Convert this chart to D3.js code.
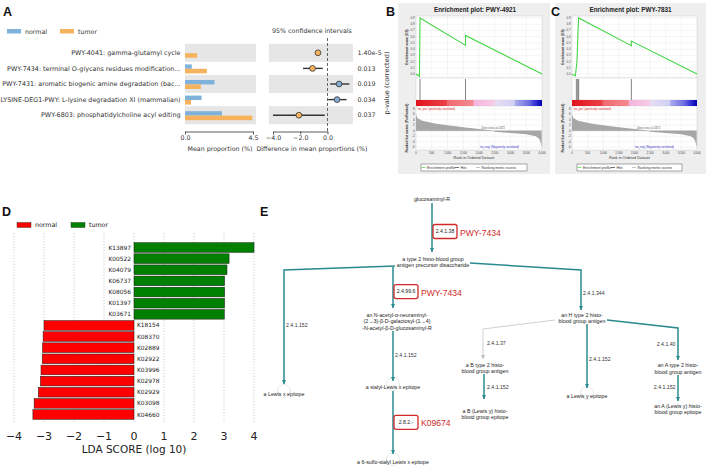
<!DOCTYPE html>
<html>
<head>
<meta charset="utf-8">
<script src="https://cdn.jsdelivr.net/npm/d3@7"></script>
<style>
  body { margin: 0; background: #fff; }
  svg { display: block; font-family: "DejaVu Sans", sans-serif; }
</style>
</head>
<body>
<svg id="fig" width="708" height="471"></svg>
<script>
// ---- A: STAMP extended error bar ----
const A_PATHWAYS = [
  "PWY-4041: gamma-glutamyl cycle",
  "PWY-7434: terminal O-glycans residues modification...",
  "PWY-7431: aromatic biogenic amine degradation (bac...",
  "LYSINE-DEG1-PWY: L-lysine degradation XI (mammalian)",
  "PWY-6803: phosphatidylcholine acyl editing",
];
const A_NORMAL = [0, 0.45, 1.95, 1.1, 2.45];
const A_TUMOR = [0.8, 1.45, 1.05, 0.4, 4.45];
const A_DIFF = [-0.7, -1.1, 0.85, 0.7, -2.1];
const A_CI_LOW = [-0.85, -1.8, 0.2, 0.05, -4.0];
const A_CI_HIGH = [-0.55, -0.35, 1.6, 1.4, -0.2];
const A_PVALUES = ["1.40e-5", "0.013", "0.019", "0.034", "0.037"];
const A_BAR_TICKS = [0, 4.5];
const A_DIFF_TICKS = [-4, -2, 0];

// ---- B, C: GSEA enrichment plots ----
const B_ES_RANK = [0, 110, 127, 1572, 1572, 4000];
const B_ES = [0, -0.04, 0.9, 0.46, 0.62, 0];
const B_HITS = [127, 1572];
const C_ES_RANK = [0, 107, 160, 192, 213, 1899, 1899, 4000];
const C_ES = [0, -0.03, 0.2, 0.7, 0.9, 0.455, 0.53, 0];
const C_HITS = [139, 181, 213, 1899];
const METRIC_RANK = [0, 40, 200, 600, 1000, 1500, 2000, 2450, 2500, 3000, 3500, 3800, 3900, 3950, 3990];
const METRIC_VALUE = [6.0, 4.6, 3.6, 2.6, 2.0, 1.3, 0.6, 0.1, -0.4, -0.8, -1.3, -2.0, -2.8, -4.0, -6.0];
const RANK_TICKS = [0, 500, 1000, 1500, 2000, 2500, 3000, 3500, 4000];
const ES_TICKS = [0, 0.1, 0.2, 0.3, 0.4, 0.5, 0.6, 0.7, 0.8, 0.9];
const METRIC_TICKS = [-6, -4, -2, 0, 2, 4, 6, 8];

// ---- D: LEfSe LDA scores ----
const D_TUMOR_KO = ["K13897", "K00522", "K04079", "K06737", "K08056", "K01397", "K03671"];
const D_TUMOR_LDA = [4.0, 3.17, 3.1, 3.02, 3.02, 3.02, 3.01];
const D_NORMAL_KO = ["K18154", "K08370", "K02889", "K02922", "K03996", "K02978", "K02929", "K03098", "K04660"];
const D_NORMAL_LDA = [-3.0, -3.03, -3.05, -3.06, -3.1, -3.12, -3.19, -3.33, -3.37];
const D_TICKS = [-4, -3, -2, -1, 0, 1, 2, 3, 4];

// ---- E: MetaCyc pathway ----
const E_NODES = [
  { id: "glc", label: ["glucosaminyl-R"] },
  { id: "t2p", label: ["a type 2 histo-blood group", "antigen precursor disaccharide"] },
  { id: "neu", label: ["an N-acetyl-\u03b1-neuraminyl-", "(2\u21923)-\u03b2-D-galactosyl-(1\u21924)", "-N-acetyl-\u03b2-D-glucosaminyl-R"] },
  { id: "lex", label: ["a Lewis x epitope"] },
  { id: "slx", label: ["a sialyl-Lewis x epitope"] },
  { id: "sslx", label: ["a 6-sulfo-sialyl Lewis x epitope"] },
  { id: "h2", label: ["an H type 2 histo-", "blood group antigen"] },
  { id: "b2", label: ["a B type 2 histo-", "blood group antigen"] },
  { id: "bley", label: ["a B (Lewis y) histo-", "blood group epitope"] },
  { id: "ley", label: ["a Lewis y epitope"] },
  { id: "a2", label: ["an A type 2 histo-", "blood group antigen"] },
  { id: "aley", label: ["an A (Lewis y) histo-", "blood group epitope"] },
];
const E_REACTIONS = [
  { from: "glc", to: "t2p", ec: "2.4.1.38", tag: "PWY-7434" },
  { from: "t2p", to: "lex", ec: "2.4.1.152" },
  { from: "t2p", to: "neu", ec: "2.4.99.6", tag: "PWY-7434" },
  { from: "neu", to: "slx", ec: "2.4.1.152" },
  { from: "slx", to: "sslx", ec: "2.8.2.-", tag: "K09674" },
  { from: "t2p", to: "h2", ec: "2.4.1.344" },
  { from: "h2", to: "b2", ec: "2.4.1.37", faint: true },
  { from: "b2", to: "bley", ec: "2.4.1.152" },
  { from: "h2", to: "ley", ec: "2.4.1.152" },
  { from: "h2", to: "a2", ec: "2.4.1.40" },
  { from: "a2", to: "aley", ec: "2.4.1.152" },
];

// layout of the pathway drawing (label centres, routes, EC label anchors)
const E_NODE_XY = {
  glc: [432, 199], t2p: [433, 262], neu: [397, 321.5], lex: [284, 394],
  slx: [393, 387], sslx: [393, 462], h2: [582, 318.5], b2: [485, 368],
  bley: [485, 414.5], ley: [587, 396], a2: [678, 368.7], aley: [678, 409.3],
};
const E_ROUTES = [
  { pts: [[432, 203], [432, 252]], lab: [445, 231.5] },
  { pts: [[395, 266], [284, 270], [284, 384]], lab: [286, 325, "start"] },
  { pts: [[393, 267], [393, 308]], lab: [406, 291.6] },
  { pts: [[393, 331], [393, 381]], lab: [395, 355, "start"] },
  { pts: [[393, 391], [393, 454]], lab: [406, 422.3] },
  { pts: [[470, 263], [581, 270], [581, 310]], lab: [583, 293, "start"] },
  { pts: [[555, 320], [483, 329], [483, 359]], lab: [487, 343, "start"] },
  { pts: [[484, 374], [484, 399]], lab: [487, 387, "start"] },
  { pts: [[587, 324], [587, 388]], lab: [589, 359, "start"] },
  { pts: [[607, 320], [678, 328], [678, 360]], lab: [675.5, 344.5, "end"] },
  { pts: [[678, 375], [678, 401]], lab: [675.5, 387, "end"] },
];

const BLUE = "#7fb2da", ORANGE = "#f6b35e";
const TEAL = "#2a8b8f", BOXRED = "#cf2a2a";
const svg = d3.select("#fig");
const defs = svg.append("defs");

function panelLetter(x, y, t) {
  svg.append("text").attr("x", x).attr("y", y).attr("font-size", 12.5)
    .attr("font-weight", "bold").attr("font-family", "'Liberation Sans', sans-serif")
    .attr("fill", "#111").text(t);
}

// =============== A ===============
panelLetter(3, 15.5, "A");
const gA = svg.append("g").attr("font-size", 6.3).attr("fill", "#333");
[["normal", BLUE], ["tumor", ORANGE]].forEach(([name, col], i) => {
  gA.append("rect").attr("x", 7 + i * 53).attr("y", 29).attr("width", 14)
    .attr("height", 4.5).attr("fill", col);
  gA.append("text").attr("x", 25 + i * 53).attr("y", 31.3).attr("dy", "0.35em")
    .attr("fill", "#333").text(name);
});
gA.append("text").attr("x", 312).attr("y", 30.5).attr("dy", "0.35em")
  .attr("text-anchor", "middle").attr("fill", "#333").text("95% confidence intervals");

const yA = d3.scaleBand().domain(A_PATHWAYS).range([45, 123]);
const rowC = (p) => yA(p) + yA.bandwidth() / 2;
const xBar = d3.scaleLinear().domain([0, 4.5]).range([185, 253]);
const xDiff = d3.scaleLinear().domain([-4, 0]).range([273, 327.5]);

// alternating grey rows
A_PATHWAYS.filter((d, i) => i % 2 === 0).forEach((p) => {
  gA.append("rect").attr("x", xBar(0)).attr("y", rowC(p) - 9)
    .attr("width", 71).attr("height", 18).attr("fill", "#e6e6e6");
  gA.append("rect").attr("x", xDiff(-4.3)).attr("y", rowC(p) - 9)
    .attr("width", xDiff(1.87) - xDiff(-4.3)).attr("height", 18).attr("fill", "#e6e6e6");
});

gA.append("g").selectAll("text").data(A_PATHWAYS).join("text")
  .attr("x", 180.5).attr("y", rowC).attr("dy", "0.35em").attr("text-anchor", "end")
  .attr("font-size", 6.4).attr("fill", "#333").text((d) => d);

gA.append("g").selectAll("rect").data(A_PATHWAYS).join("rect")
  .attr("x", xBar(0)).attr("y", (p) => rowC(p) - 4)
  .attr("width", (p, i) => xBar(A_NORMAL[i]) - xBar(0)).attr("height", 4.4)
  .attr("fill", BLUE);
gA.append("g").selectAll("rect").data(A_PATHWAYS).join("rect")
  .attr("x", xBar(0)).attr("y", (p) => rowC(p) + 0.4)
  .attr("width", (p, i) => xBar(A_TUMOR[i]) - xBar(0)).attr("height", 4.6)
  .attr("fill", ORANGE);

gA.append("line").attr("x1", xDiff(0)).attr("x2", xDiff(0)).attr("y1", 38).attr("y2", 131)
  .attr("stroke", "#555").attr("stroke-width", 0.9).attr("stroke-dasharray", "3,2");

gA.append("g").selectAll("line").data(A_PATHWAYS).join("line")
  .attr("x1", (p, i) => xDiff(A_CI_LOW[i])).attr("x2", (p, i) => xDiff(A_CI_HIGH[i]))
  .attr("y1", rowC).attr("y2", rowC).attr("stroke", "#333").attr("stroke-width", 1.4);
gA.append("g").selectAll("circle").data(A_PATHWAYS).join("circle")
  .attr("cx", (p, i) => xDiff(A_DIFF[i])).attr("cy", rowC).attr("r", 2.9)
  .attr("fill", (p, i) => (A_DIFF[i] < 0 ? ORANGE : "#86acd2"))
  .attr("stroke", "#333").attr("stroke-width", 0.8);

gA.append("g").selectAll("text").data(A_PVALUES).join("text")
  .attr("x", 357.5).attr("y", (d, i) => rowC(A_PATHWAYS[i])).attr("dy", "0.35em")
  .attr("fill", "#333").text((d) => d);

function styleAxis(g) {
  g.selectAll("path,line").attr("stroke", "#333").attr("stroke-width", 0.8);
  g.selectAll("text").attr("font-size", 6.3).attr("fill", "#333")
    .attr("font-family", "'DejaVu Sans', sans-serif");
}
gA.append("g").attr("transform", "translate(0,131.5)")
  .call(d3.axisBottom(xBar).tickValues(A_BAR_TICKS).tickFormat(d3.format(".1f"))
    .tickSize(3).tickSizeOuter(0).tickPadding(1.5))
  .call(styleAxis);
gA.append("g").attr("transform", "translate(0,131.5)")
  .call(d3.axisBottom(xDiff).tickValues(A_DIFF_TICKS).tickSize(3).tickSizeOuter(0)
    .tickPadding(1.5))
  .call(styleAxis);
gA.append("text").attr("x", 220).attr("y", 149).attr("dy", "0.35em")
  .attr("text-anchor", "middle").attr("fill", "#333").text("Mean proportion (%)");
gA.append("text").attr("x", 312).attr("y", 149).attr("dy", "0.35em")
  .attr("text-anchor", "middle").attr("fill", "#333").text("Difference in mean proportions (%)");
gA.append("text").attr("transform", "translate(387,83) rotate(-90)")
  .attr("dy", "0.35em").attr("text-anchor", "middle").attr("font-size", 6.6)
  .attr("fill", "#333").text("p-value (corrected)");

// =============== B, C ===============
const grad = defs.append("linearGradient").attr("id", "rankbar");
[[0, "#e1121c"], [0.24, "#ea4047"], [0.25, "#f0686e"], [0.45, "#f38a90"],
 [0.46, "#f6b3dc"], [0.62, "#f5cce6"], [0.63, "#e6dcf3"], [0.78, "#cfcff3"],
 [0.79, "#a9a9ee"], [0.9, "#6a6ae0"], [0.94, "#3a3ad8"], [1, "#0000b0"]]
  .forEach(([o, c]) => grad.append("stop").attr("offset", o).attr("stop-color", c));

function drawGsea(o) {
  const g = svg.append("g").attr("font-family", "'Liberation Sans', sans-serif");
  const x = d3.scaleLinear().domain([0, 4000]).range([o.x0, o.x1]);
  const yEs = d3.scaleLinear().domain([-0.064, 0.932]).range([78, 16]);
  const yM = d3.scaleLinear().domain([-7, 9]).range([150, 106]);
  g.append("rect").attr("x", o.bx0).attr("y", 3).attr("width", o.bx1 - o.bx0)
    .attr("height", 171).attr("fill", "#eeeeee");
  g.append("text").attr("x", (o.x0 + o.x1) / 2 - 4).attr("y", 12)
    .attr("text-anchor", "middle").attr("font-size", 6.3).attr("font-weight", "bold")
    .attr("fill", "#222").text(o.title);
  [[16, 78], [78, 100], [106, 150]].forEach(([a, b]) => {
    g.append("rect").attr("x", o.x0).attr("y", a).attr("width", o.x1 - o.x0)
      .attr("height", b - a).attr("fill", "#fff").attr("stroke", "#c4c4c4")
      .attr("stroke-width", 0.4);
  });
  const grid = g.append("g").attr("stroke", "#e6e6e6").attr("stroke-width", 0.4);
  [[16, 78], [106, 150]].forEach(([a, b]) => {
    grid.append("g").selectAll("line").data(RANK_TICKS.slice(1, -1)).join("line")
      .attr("x1", x).attr("x2", x).attr("y1", a).attr("y2", b);
  });
  grid.append("g").selectAll("line").data(ES_TICKS).join("line")
    .attr("x1", o.x0).attr("x2", o.x1).attr("y1", yEs).attr("y2", yEs);
  grid.append("g").selectAll("line").data(METRIC_TICKS).join("line")
    .attr("x1", o.x0).attr("x2", o.x1).attr("y1", yM).attr("y2", yM);

  // ranked list metric
  g.append("path").datum(d3.range(METRIC_RANK.length))
    .attr("d", d3.area().x((i) => x(METRIC_RANK[i])).y0(yM(0)).y1((i) => yM(METRIC_VALUE[i])))
    .attr("fill", "#a7a7a7");
  g.append("line").attr("x1", o.x0).attr("x2", o.x1).attr("y1", yM(0)).attr("y2", yM(0))
    .attr("stroke", "#999").attr("stroke-width", 0.3);
  g.append("text").attr("x", x(2450)).attr("y", yM(0) - 2).attr("text-anchor", "middle")
    .attr("font-size", 2.8).attr("fill", "#555").text("Zero cross at 2472");
  g.append("text").attr("x", o.x0 + 1.5).attr("y", 109.5).attr("font-size", 2.8)
    .attr("fill", "#e02020").text("'na_pos' (positively correlated)");
  g.append("text").attr("x", o.x1 - 23).attr("y", 147.5).attr("text-anchor", "end")
    .attr("font-size", 2.8).attr("fill", "#3434c8").text("'na_neg' (Negatively correlated)");

  g.append("rect").attr("x", o.x0).attr("y", 100).attr("width", o.x1 - o.x0)
    .attr("height", 6).attr("fill", "url(#rankbar)");
  g.append("g").selectAll("line").data(o.hits).join("line")
    .attr("x1", x).attr("x2", x).attr("y1", 79).attr("y2", 100)
    .attr("stroke", "#333").attr("stroke-width", 0.6);

  g.append("path").datum(d3.range(o.rank.length))
    .attr("d", d3.line().x((i) => x(o.rank[i])).y((i) => yEs(o.es[i])))
    .attr("fill", "none").attr("stroke", "#45d445").attr("stroke-width", 1.1);

  const lab = g.append("g").attr("font-size", 2.9).attr("fill", "#444");
  lab.selectAll("text.es").data(ES_TICKS).join("text").attr("class", "es")
    .attr("x", o.x0 - 1.5).attr("y", yEs).attr("dy", "0.35em").attr("text-anchor", "end")
    .text(d3.format(".1f"));
  lab.selectAll("text.mt").data(METRIC_TICKS).join("text").attr("class", "mt")
    .attr("x", o.x0 - 1.5).attr("y", yM).attr("dy", "0.35em").attr("text-anchor", "end")
    .text((d) => d);
  lab.selectAll("text.rk").data(RANK_TICKS).join("text").attr("class", "rk")
    .attr("x", x).attr("y", 154).attr("text-anchor", "middle").text(d3.format(","));
  g.append("text").attr("x", (o.x0 + o.x1) / 2 - 5).attr("y", 159.3)
    .attr("text-anchor", "middle").attr("font-size", 3.7).attr("fill", "#333")
    .text("Rank in Ordered Dataset");
  g.append("text").attr("transform", `translate(${o.x0 - 8},47) rotate(-90)`)
    .attr("text-anchor", "middle").attr("font-size", 3.3).attr("font-weight", "bold")
    .attr("fill", "#333").text("Enrichment score (ES)");
  g.append("text").attr("transform", `translate(${o.x0 - 8},128) rotate(-90)`)
    .attr("text-anchor", "middle").attr("font-size", 3.3).attr("font-weight", "bold")
    .attr("fill", "#333").text("Ranked list metric (PreRanked)");

  // legend box
  const lx = o.x0 + 5;
  g.append("rect").attr("x", lx).attr("y", 164).attr("width", o.x1 - o.x0 - 20)
    .attr("height", 7).attr("fill", "#fff").attr("stroke", "#555").attr("stroke-width", 0.5);
  [["Enrichment profile", "#45d445", 0.5], ["Hits", "#333", 34], ["Ranking metric scores", "#aaa", 55]]
    .forEach(([t, c, dx]) => {
      g.append("line").attr("x1", lx + dx).attr("x2", lx + dx + 4).attr("y1", 167.5)
        .attr("y2", 167.5).attr("stroke", c).attr("stroke-width", 0.7);
      g.append("text").attr("x", lx + dx + 5.5).attr("y", 167.5).attr("dy", "0.35em")
        .attr("font-size", 3.5).attr("fill", "#333").text(t);
    });
}
drawGsea({ x0: 416, x1: 542, bx0: 398, bx1: 550, title: "Enrichment plot: PWY-4921",
  rank: B_ES_RANK, es: B_ES, hits: B_HITS });
drawGsea({ x0: 572, x1: 697, bx0: 555, bx1: 706, title: "Enrichment plot: PWY-7831",
  rank: C_ES_RANK, es: C_ES, hits: C_HITS });
panelLetter(386, 15.5, "B");
panelLetter(551, 15.5, "C");

// =============== D ===============
panelLetter(2, 215.5, "D");
const gD = svg.append("g");
[["normal", "#ff0000"], ["tumor", "#008000"]].forEach(([name, col], i) => {
  gD.append("rect").attr("x", 17 + i * 54).attr("y", 222.5).attr("width", 14)
    .attr("height", 5).attr("fill", col).attr("stroke", "#222").attr("stroke-width", 0.4);
  gD.append("text").attr("x", 35 + i * 54).attr("y", 225).attr("dy", "0.35em")
    .attr("font-size", 6.3).attr("fill", "#222").text(name);
});
const dKeys = D_TUMOR_KO.concat(D_NORMAL_KO);
const dVals = D_TUMOR_LDA.concat(D_NORMAL_LDA);
const xD = d3.scaleLinear().domain([-4, 4]).range([14, 254]);
const yD = d3.scaleBand().domain(dKeys).range([242, 420]).paddingInner(0.13).paddingOuter(0.06);
gD.append("g").selectAll("line").data(D_TICKS).join("line")
  .attr("x1", xD).attr("x2", xD).attr("y1", 233).attr("y2", 423)
  .attr("stroke", "#9a9a9a").attr("stroke-width", 0.6).attr("stroke-dasharray", "1,1.8");
gD.append("g").selectAll("rect").data(dKeys).join("rect")
  .attr("x", (k, i) => xD(Math.min(0, dVals[i]))).attr("y", yD)
  .attr("width", (k, i) => Math.abs(xD(dVals[i]) - xD(0))).attr("height", yD.bandwidth())
  .attr("fill", (k, i) => (dVals[i] > 0 ? "#008000" : "#ff0000"))
  .attr("stroke", "#1a1a1a").attr("stroke-width", 0.5);
gD.append("g").selectAll("text").data(dKeys).join("text")
  .attr("x", (k, i) => (dVals[i] > 0 ? xD(0) - 3 : xD(0) + 3))
  .attr("y", (k) => yD(k) + yD.bandwidth() / 2).attr("dy", "0.35em")
  .attr("text-anchor", (k, i) => (dVals[i] > 0 ? "end" : "start"))
  .attr("font-size", 5.9).attr("fill", "#222").text((k) => k);
gD.append("g").selectAll("text").data(D_TICKS).join("text")
  .attr("x", xD).attr("y", 440).attr("text-anchor", "middle")
  .attr("font-size", 11).attr("fill", "#222")
  .text((d) => (d < 0 ? "\u2212" + Math.abs(d) : d));
gD.append("text").attr("x", 134).attr("y", 453).attr("text-anchor", "middle")
  .attr("font-size", 10.5).attr("fill", "#222").text("LDA SCORE (log 10)");

// =============== E ===============
panelLetter(260, 216, "E");
const gE = svg.append("g").attr("font-family", "'Liberation Sans', sans-serif");
function marker(id, col) {
  defs.append("marker").attr("id", id).attr("viewBox", "0 0 6 6").attr("refX", 6)
    .attr("refY", 3).attr("markerWidth", 4.5).attr("markerHeight", 4.5)
    .attr("markerUnits", "userSpaceOnUse").attr("orient", "auto")
    .append("path").attr("d", "M0,0L6,3L0,6z").attr("fill", col);
}
marker("arTeal", TEAL);
marker("arGrey", "#bbb");

// faint halo circles at some product nodes
["lex", "slx", "sslx", "ley"].forEach((id) => {
  const [x, y] = E_NODE_XY[id];
  gE.append("circle").attr("cx", x).attr("cy", y - 3).attr("r", 6.5)
    .attr("fill", "none").attr("stroke", "#e2e2e2").attr("stroke-width", 0.8);
});

E_REACTIONS.forEach((r, i) => {
  const route = E_ROUTES[i];
  gE.append("path").attr("d", d3.line()(route.pts)).attr("fill", "none")
    .attr("stroke", r.faint ? "#c4c4c4" : TEAL).attr("stroke-width", r.faint ? 0.8 : 1.5)
    .attr("marker-end", r.faint ? "url(#arGrey)" : "url(#arTeal)");
  const [lx, ly, anchor] = route.lab;
  if (r.tag) {
    gE.append("rect").attr("x", lx - 12).attr("y", ly - 7).attr("width", 24)
      .attr("height", 14).attr("rx", 2).attr("fill", "#fff")
      .attr("stroke", BOXRED).attr("stroke-width", 1.3);
    gE.append("text").attr("x", lx).attr("y", ly).attr("dy", "0.35em")
      .attr("text-anchor", "middle").attr("font-size", 5.2).attr("fill", "#222").text(r.ec);
    gE.append("text").attr("x", lx + 15).attr("y", ly + 1).attr("dy", "0.35em")
      .attr("font-size", 8.6).attr("fill", BOXRED).text(r.tag);
  } else {
    gE.append("text").attr("x", lx).attr("y", ly).attr("dy", "0.35em")
      .attr("text-anchor", anchor).attr("font-size", 5.2).attr("fill", "#333").text(r.ec);
  }
});

E_NODES.forEach((n) => {
  const [x, y] = E_NODE_XY[n.id];
  const lh = 6.2;
  const t = gE.append("text").attr("text-anchor", "middle").attr("font-size", 5.3)
    .attr("fill", "#222");
  n.label.forEach((line, j) => {
    t.append("tspan").attr("x", x).attr("y", y - ((n.label.length - 1) * lh) / 2 + j * lh)
      .attr("dy", "0.35em").text(line);
  });
});
</script>
</body>
</html>
